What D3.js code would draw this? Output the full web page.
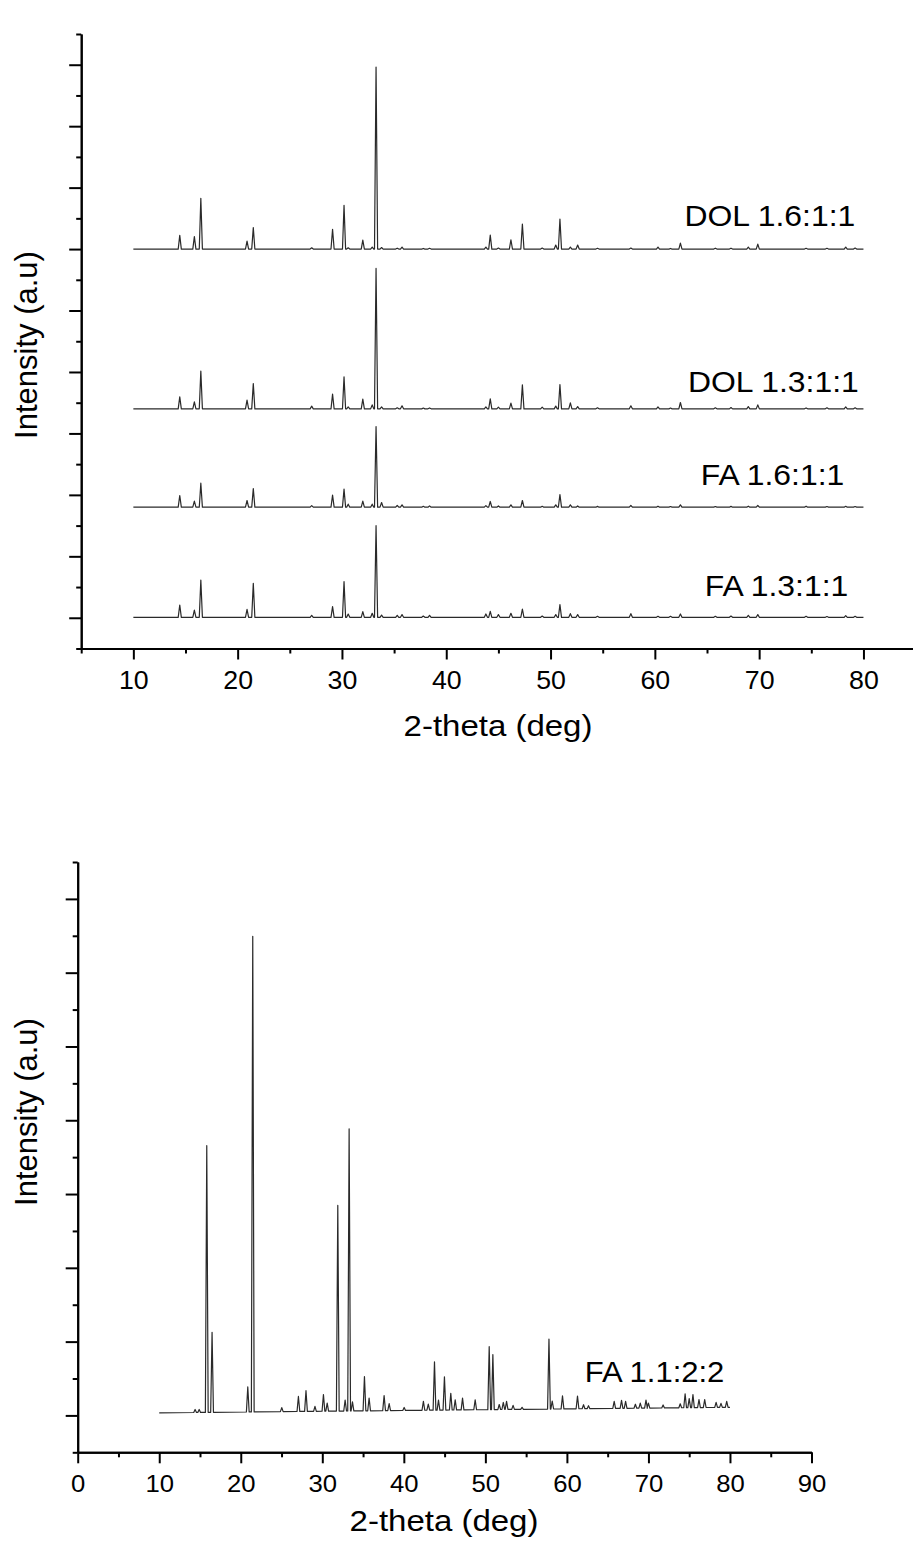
<!DOCTYPE html>
<html>
<head>
<meta charset="utf-8">
<script src="https://cdn.jsdelivr.net/npm/d3@7"></script>
<style>
  body { margin: 0; background: #fff; }
  svg text { font-family: Arial, "Liberation Sans", sans-serif; fill: #000; }
  .axis path, .axis line { stroke: #000; stroke-width: 2; }
  .pattern { fill: none; stroke: #2a2a2a; stroke-width: 1.2; stroke-linejoin: round; }
</style>
</head>
<body>
<div id="chart"></div>
<script>
// --- top panel: four patterns, same reflections, stacked with offsets
var topNames = ["DOL 1.6:1:1", "DOL 1.3:1:1", "FA 1.6:1:1", "FA 1.3:1:1"];
var topOffsets = [12000, 6800, 3600, 15];
var topPeaks = [14.45, 15.85, 16.47, 20.9, 21.5, 27.1, 29.1, 30.2, 30.6, 32.0,
                32.9, 33.27, 33.8, 35.3, 35.76, 37.8, 38.4, 43.8, 44.22, 45.0,
                46.2, 47.3, 49.2, 50.5, 50.9, 51.9, 52.6, 54.5, 57.7, 60.3,
                61.5, 62.45, 65.8, 67.3, 68.96, 69.87, 74.5, 76.5, 78.3, 79.2];
var dol16 = [446, 404, 1650, 260, 697, 40, 641, 1422, 40, 293,
             65, 5924, 50, 30, 65, 20, 25, 65, 456, 35,
             303, 814, 35, 130, 977, 65, 130, 25, 35, 65,
             20, 195, 30, 30, 65, 163, 25, 25, 65, 35];
var dol13 = [390, 228, 1227, 283, 824, 87, 478, 1042, 65, 315,
             130, 4570, 65, 33, 98, 25, 30, 65, 326, 55,
             185, 781, 55, 88, 792, 195, 75, 33, 98, 65,
             25, 206, 33, 42, 75, 130, 30, 33, 65, 33];
var fa16 = [380, 195, 781, 217, 608, 50, 391, 586, 98, 195,
            98, 2625, 152, 55, 75, 30, 42, 50, 185, 40,
            75, 217, 30, 75, 412, 75, 40, 25, 55, 33,
            20, 75, 20, 25, 33, 55, 33, 20, 30, 20];
var fa13 = [401, 238, 1215, 260, 1107, 65, 347, 1161, 107, 185,
            130, 2983, 75, 65, 88, 42, 65, 108, 195, 88,
            130, 271, 40, 88, 412, 119, 88, 33, 119, 33,
            33, 108, 33, 42, 65, 88, 33, 25, 55, 33];
var topSeries = [dol16, dol13, fa16, fa13];

// --- bottom panel: FA 1.1:2:2
var botName = "FA 1.1:2:2";
var botPeaks = [14.4, 14.9, 15.83, 16.48, 20.86, 21.47, 25.03, 27.07, 28.0, 29.1,
                30.14, 30.6, 31.9, 32.8, 33.29, 33.7, 35.17, 35.74, 37.58, 38.2,
                40.04, 42.4, 43.0, 43.76, 44.25, 44.98, 45.76, 46.3, 47.2, 48.75,
                50.47, 50.92, 51.7, 52.2, 52.6, 53.4, 54.5, 57.8, 58.2, 59.46,
                61.3, 62.04, 62.65, 65.8, 66.7, 67.2, 68.4, 69.0, 69.7, 70.0,
                71.8, 73.9, 74.5, 75.0, 75.46, 76.2, 76.9, 78.3, 78.9, 79.6];
var botHeights = [81, 81, 7228, 2168, 678, 12892, 108, 407, 561, 136,
                  453, 217, 5575, 298, 7650, 244, 930, 344, 407, 190,
                  81, 244, 163, 1309, 271, 902, 453, 271, 317, 271,
                  1707, 1490, 136, 190, 217, 108, 54, 1897, 217, 352,
                  344, 108, 81, 190, 217, 190, 108, 136, 217, 136,
                  81, 108, 379, 244, 352, 217, 217, 136, 108, 163];
var botBackground = [70, 220];   // baseline at 10 deg and 80 deg

var scanRange = [10, 80];
var xTicksTop = [10, 20, 30, 40, 50, 60, 70, 80];
var xTicksBot = [0, 10, 20, 30, 40, 50, 60, 70, 80, 90];

var svg = d3.select("#chart").append("svg")
  .attr("width", 913).attr("height", 1548)
  .style("display", "block");

// turns a peak list into a polyline: flat baseline with a narrow spike per peak
function pattern(peaks, heights, base, hw) {
  var pts = [[scanRange[0], base(scanRange[0])]];
  peaks.forEach(function(p, i) {
    pts.push([p - hw, base(p - hw)]);
    pts.push([p, base(p) + heights[i]]);
    pts.push([p + hw, base(p + hw)]);
  });
  pts.push([scanRange[1], base(scanRange[1])]);
  return pts;
}

function axes(g, x, y, xMajor, xMinor, yMajor, yMinor, fs, labelY, title, titleX, titleY, yTitleY) {
  var y0 = y.range()[0];
  var x0 = x.range()[0];

  g.append("g").attr("class", "axis").attr("transform", "translate(0," + y0 + ")")
    .call(d3.axisBottom(x).tickValues(xMinor).tickSize(5).tickSizeOuter(0).tickFormat(""));
  var xa = g.append("g").attr("class", "axis").attr("transform", "translate(0," + y0 + ")")
    .call(d3.axisBottom(x).tickValues(xMajor).tickSize(11).tickSizeOuter(0));
  xa.selectAll("text")
    .attr("y", labelY).attr("dy", null)
    .attr("font-size", fs)
    .attr("transform", "scale(1.07,1)");
  xa.attr("font-family", null);

  g.append("g").attr("class", "axis").attr("transform", "translate(" + x0 + ",0)")
    .call(d3.axisLeft(y).tickValues(yMinor).tickSize(5).tickSizeOuter(0).tickFormat(""));
  g.append("g").attr("class", "axis").attr("transform", "translate(" + x0 + ",0)")
    .call(d3.axisLeft(y).tickValues(yMajor).tickSize(12).tickSizeOuter(0).tickFormat(""));

  g.append("text")
    .attr("transform", "translate(" + titleX + "," + titleY + ") scale(1.1,1)")
    .attr("text-anchor", "middle")
    .attr("font-size", 30)
    .text(title);

  g.append("text")
    .attr("transform", "translate(37," + yTitleY + ") rotate(-90)")
    .attr("text-anchor", "middle")
    .attr("font-size", 31)
    .text("Intensity (a.u)");
}

// ---------- top panel
var gTop = svg.append("g");
var xTop = d3.scaleLinear().domain([5, 85]).range([81.2, 915.6]);
var yTop = d3.scaleLinear().domain([-1000, 19000]).range([648.5, 34]);

var line = function(x, y) {
  return d3.line().x(function(d) { return x(d[0]); }).y(function(d) { return y(d[1]); });
};

topSeries.forEach(function(h, i) {
  var off = topOffsets[i];
  gTop.append("path")
    .datum(pattern(topPeaks, h, function() { return off; }, 0.15))
    .attr("class", "pattern")
    .attr("d", line(xTop, yTop));
});

var topLabelPos = [[684.5, 226], [688, 391.7], [700.7, 485], [704.7, 596]];
topNames.forEach(function(n, i) {
  gTop.append("text")
    .attr("transform", "translate(" + topLabelPos[i][0] + "," + topLabelPos[i][1] + ") scale(1.1,1)")
    .attr("font-size", 29)
    .text(n);
});

axes(gTop, xTop, yTop,
  xTicksTop, d3.range(5, 90, 10),
  d3.range(0, 19000, 2000), d3.range(-1000, 20000, 2000),
  25, 40.5, "2-theta (deg)", 498, 736, 345);

// ---------- bottom panel
var gBot = svg.append("g");
var xBot = d3.scaleLinear().domain([0, 90]).range([77.7, 811.5]);
var yBot = d3.scaleLinear().domain([-1000, 15000]).range([1452.3, 862]);
var bg = d3.scaleLinear().domain(scanRange).range(botBackground);

gBot.append("path")
  .datum(pattern(botPeaks, botHeights, bg, 0.17))
  .attr("class", "pattern")
  .attr("d", line(xBot, yBot));

gBot.append("text")
  .attr("transform", "translate(584.7,1381.7) scale(1.07,1)")
  .attr("font-size", 29)
  .text(botName);

axes(gBot, xBot, yBot,
  xTicksBot, d3.range(5, 90, 10),
  d3.range(0, 15000, 2000), d3.range(-1000, 16000, 2000),
  24, 39.4, "2-theta (deg)", 444, 1531, 1112);
</script>
</body>
</html>
